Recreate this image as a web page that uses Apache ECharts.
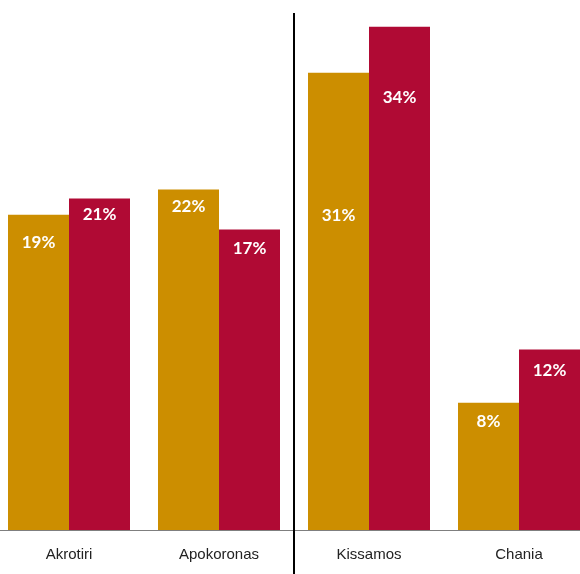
<!DOCTYPE html>
<html>
<head>
<meta charset="utf-8">
<script src="https://cdn.jsdelivr.net/npm/echarts@6/dist/echarts.min.js"></script>
<style>html,body{margin:0;padding:0;background:#fff;overflow:hidden}#c{position:absolute;left:-6px;top:0;width:600px;height:574px}</style>
</head>
<body>
<div id="c"></div>
<script>
// Data
var categories = ['Akrotiri', 'Apokoronas', 'Kissamos', 'Chania'];
var goldValues = [21.3, 23.0, 30.9, 8.6];
var redValues = [22.4, 20.3, 34.0, 12.2];
var goldLabels = ['19%', '22%', '31%', '8%'];
var redLabels = ['21%', '17%', '34%', '12%'];

// Styling (label distances from bar top, per bar)
var goldDist = [19, 8, 134, 10];
var redDist = [8, 10, 62, 13];

function build(values, labels, dist) {
  return values.map(function (v, i) {
    return { value: v, label: { formatter: labels[i], distance: dist[i] } };
  });
}

var chart = echarts.init(document.getElementById('c'));
var labelStyle = {
  show: true, position: 'insideTop', color: '#fff',
  fontFamily: 'Lato', fontWeight: 'bold', fontSize: 17
};
chart.setOption({
  animation: false,
  grid: { left: 0, right: 0, top: 12, bottom: 44 },
  xAxis: {
    type: 'category', data: categories,
    axisLine: { lineStyle: { color: '#7f7f7f', width: 1 } },
    axisTick: { show: false },
    axisLabel: { color: '#222', fontFamily: 'Liberation Sans', fontSize: 15, margin: 17 }
  },
  yAxis: { type: 'value', min: 0, max: 35, show: false, splitLine: { show: false } },
  series: [
    { type: 'bar', data: build(goldValues, goldLabels, goldDist), barWidth: 61, barGap: 0,
      itemStyle: { color: '#CC8E00' }, label: labelStyle },
    { type: 'bar', data: build(redValues, redLabels, redDist), barWidth: 61,
      itemStyle: { color: '#B00A34' }, label: labelStyle }
  ]
});
var x1 = chart.convertToPixel({ xAxisIndex: 0 }, categories[1]);
var x2 = chart.convertToPixel({ xAxisIndex: 0 }, categories[2]);
var xm = Math.round((x1 + x2) / 2);
chart.setOption({
  graphic: [{ type: 'line', shape: { x1: xm, y1: 13, x2: xm, y2: 574 },
    style: { stroke: '#000', lineWidth: 2 }, z: 10 }]
});
</script>
</body>
</html>
